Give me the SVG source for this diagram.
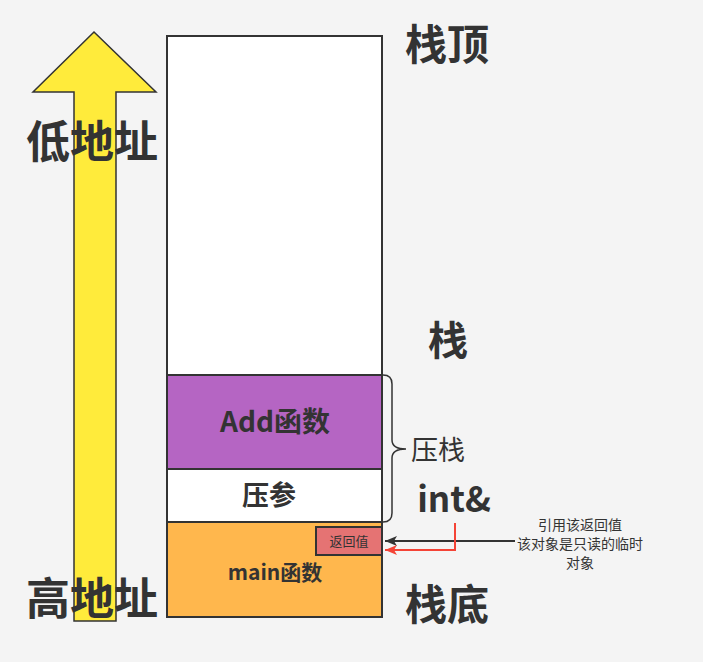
<svg xmlns="http://www.w3.org/2000/svg" width="703" height="662" viewBox="0 0 703 662">
<defs>
<style>
.t{font-family:"Noto Sans CJK SC","Liberation Sans",sans-serif;fill:#333333}
.b{font-weight:bold}
.box{stroke:#333333;stroke-width:2}
</style>
<marker id="ak" markerWidth="12" markerHeight="10" refX="12" refY="5" orient="auto" markerUnits="userSpaceOnUse"><path d="M0,0 L12,5 L0,10 L3,5 Z" fill="#333333"/></marker>
<marker id="ar" markerWidth="12" markerHeight="10" refX="12" refY="5" orient="auto" markerUnits="userSpaceOnUse"><path d="M0,0 L12,5 L0,10 L3,5 Z" fill="#f44336"/></marker>
</defs>
<rect width="703" height="662" fill="#f4f4f4"/>
<g id="arrow-up">
<path d="M94,32 L156,92 L116,92 L116,621 L74,621 L74,92 L33,92 Z" fill="#ffeb3b" stroke="#333333" stroke-width="1.5"/>
</g>
<g id="stack">
<rect class="box" x="167" y="36" width="215" height="581" fill="#ffffff"/>
</g>
<g id="add">
<rect class="box" x="167" y="375" width="215" height="94" fill="#b565c3"/>
<text class="t b" x="275" y="432" font-size="28" text-anchor="middle">Add函数</text>
</g>
<g id="yacan">
<rect class="box" x="167" y="469" width="215" height="53" fill="#ffffff"/>
<text class="t b" x="269" y="505" font-size="27" text-anchor="middle">压参</text>
</g>
<g id="main">
<rect class="box" x="167" y="522" width="215" height="95" fill="#ffb74d"/>
<text class="t b" x="275" y="580" font-size="21" text-anchor="middle">main函数</text>
</g>
<g id="retval">
<rect class="box" x="316" y="527" width="66" height="28" fill="#e57373"/>
<text class="t" x="349" y="546" font-size="13" text-anchor="middle">返回值</text>
</g>
<g id="labels">
<text class="t b" x="447" y="60" font-size="42" text-anchor="middle">栈顶</text>
<text class="t b" x="92" y="158" font-size="44" text-anchor="middle">低地址</text>
<text class="t b" x="448" y="355" font-size="40" text-anchor="middle">栈</text>
<text class="t" x="411" y="460" font-size="27">压栈</text>
<text class="t b" x="454" y="512" font-size="35" text-anchor="middle">int&amp;</text>
<text class="t b" x="447" y="620" font-size="42" text-anchor="middle">栈底</text>
<text class="t b" x="92" y="615" font-size="44" text-anchor="middle">高地址</text>
<text class="t" x="580" y="530" font-size="14" text-anchor="middle">引用该返回值</text>
<text class="t" x="580" y="549" font-size="14" text-anchor="middle">该对象是只读的临时</text>
<text class="t" x="580" y="568" font-size="14" text-anchor="middle">对象</text>
</g>
<g id="connectors" fill="none">
<path d="M383,375 Q392,375 392,384 L392,440 Q392,449 406,449 Q392,449 392,458 L392,513 Q392,522 383,522" stroke="#333333" stroke-width="1.5"/>
<line x1="515" y1="541" x2="385" y2="541" stroke="#333333" stroke-width="2" marker-end="url(#ak)"/>
<path d="M455,523 L455,550 L385,550" stroke="#f44336" stroke-width="2" marker-end="url(#ar)"/>
</g>
</svg>
